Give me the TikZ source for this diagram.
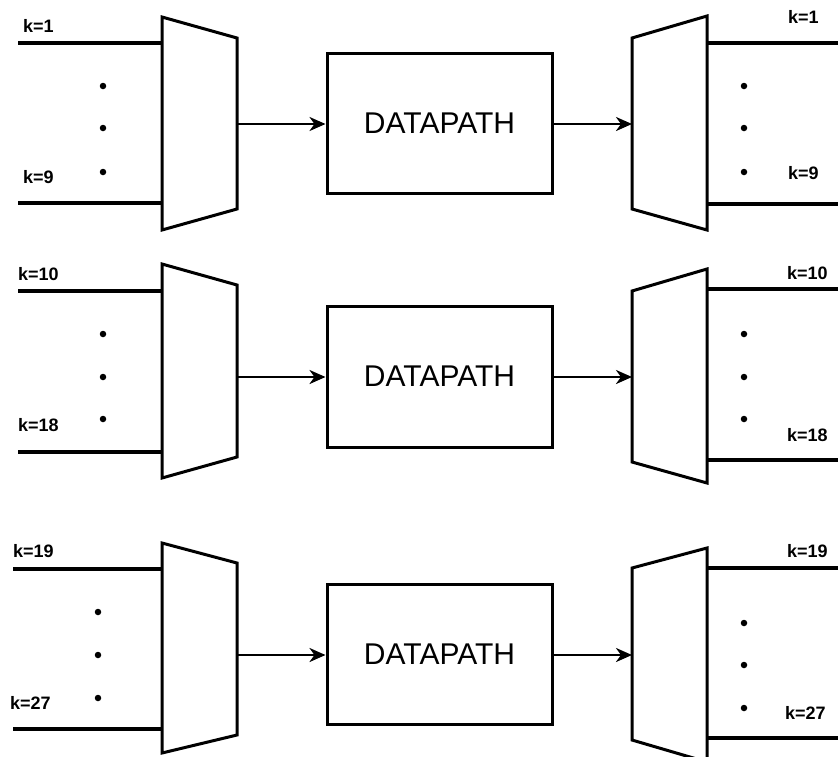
\documentclass[tikz,border=0pt]{standalone}
\usepackage{fontspec}
\setmainfont{Liberation Sans}
\usetikzlibrary{arrows.meta}
\begin{document}
\begin{tikzpicture}[x=1pt,y=-1pt,
  wire/.style={line width=3.6pt},
  muxshape/.style={draw, line width=3pt, line join=miter, fill=white},
  dpbox/.style={draw, line width=3pt, minimum width=225pt, minimum height=140pt, inner sep=0pt, font=\fontsize{30}{32}\selectfont},
  arr/.style={line width=2.6pt, -{Stealth[length=16pt,width=14pt,inset=5pt]}},
  lbl/.style={font=\bfseries\fontsize{18}{20}\selectfont, anchor=west, inner sep=0pt},
  dotmark/.style={circle, fill=black, inner sep=0pt, minimum size=6.5pt},
]
\useasboundingbox (0,0) rectangle (838,756);

% ---------------- Row 1 ----------------
\coordinate (i1a) at (18,43);  \coordinate (i1b) at (18,203);
\coordinate (m1a) at (162,43); \coordinate (m1b) at (162,203);
\draw[wire] (i1a) -- (m1a); \draw[wire] (i1b) -- (m1b);
\draw[muxshape] (162,17) coordinate (m1tl) -- (237,38) coordinate (m1tr) -- (237,209) coordinate (m1br) -- (162,230) coordinate (m1bl) -- cycle;
\coordinate (m1out) at (237,124);
\node[lbl] (l1a) at (23,26) {k=1};
\node[lbl] (l1b) at (23,177) {k=9};
\node[dotmark] (d1a) at (103,86) {};
\node[dotmark] (d1b) at (103,128) {};
\node[dotmark] (d1c) at (103,172) {};
\node[dpbox] (dp1) at (439.5,123.5) {DATAPATH};
\draw[muxshape] (632,38) coordinate (x1tl) -- (707,16) coordinate (x1tr) -- (707,230) coordinate (x1br) -- (632,209) coordinate (x1bl) -- cycle;
\coordinate (x1in) at (632,124);
\coordinate (x1a) at (707,43); \coordinate (x1b) at (707,204);
\coordinate (o1a) at (838,43); \coordinate (o1b) at (838,204);
\draw[wire] (x1a) -- (o1a); \draw[wire] (x1b) -- (o1b);
\draw[arr] (m1out) -- (m1out -| dp1.west);
\draw[arr] (dp1.east |- x1in) -- (x1in);
\node[dotmark] (e1a) at (744,86) {};
\node[dotmark] (e1b) at (744,128) {};
\node[dotmark] (e1c) at (744,172) {};
\node[lbl] (r1a) at (788,17) {k=1};
\node[lbl] (r1b) at (788,173) {k=9};

% ---------------- Row 2 ----------------
\coordinate (i2a) at (18,291);  \coordinate (i2b) at (18,452);
\coordinate (m2a) at (162,291); \coordinate (m2b) at (162,452);
\draw[wire] (i2a) -- (m2a); \draw[wire] (i2b) -- (m2b);
\draw[muxshape] (162,264) coordinate (m2tl) -- (237,285) coordinate (m2tr) -- (237,457) coordinate (m2br) -- (162,478) coordinate (m2bl) -- cycle;
\coordinate (m2out) at (237,377);
\node[lbl] (l2a) at (18,274) {k=10};
\node[lbl] (l2b) at (18,425) {k=18};
\node[dotmark] (d2a) at (103,334) {};
\node[dotmark] (d2b) at (103,377) {};
\node[dotmark] (d2c) at (103,419) {};
\node[dpbox, minimum height=141pt] (dp2) at (439.5,376.5) {DATAPATH};
\draw[muxshape] (632,291) coordinate (x2tl) -- (707,269) coordinate (x2tr) -- (707,483) coordinate (x2br) -- (632,462) coordinate (x2bl) -- cycle;
\coordinate (x2in) at (632,377);
\coordinate (x2a) at (707,289); \coordinate (x2b) at (707,460);
\coordinate (o2a) at (838,289); \coordinate (o2b) at (838,460);
\draw[wire] (x2a) -- (o2a); \draw[wire] (x2b) -- (o2b);
\draw[arr] (m2out) -- (m2out -| dp2.west);
\draw[arr] (dp2.east |- x2in) -- (x2in);
\node[dotmark] (e2a) at (744,334) {};
\node[dotmark] (e2b) at (744,377) {};
\node[dotmark] (e2c) at (744,419) {};
\node[lbl] (r2a) at (787,273) {k=10};
\node[lbl] (r2b) at (787,435) {k=18};

% ---------------- Row 3 ----------------
\coordinate (i3a) at (13,569);  \coordinate (i3b) at (13,729);
\coordinate (m3a) at (162,569); \coordinate (m3b) at (162,729);
\draw[wire] (i3a) -- (m3a); \draw[wire] (i3b) -- (m3b);
\draw[muxshape] (162,543) coordinate (m3tl) -- (237,563) coordinate (m3tr) -- (237,735) coordinate (m3br) -- (162,753) coordinate (m3bl) -- cycle;
\coordinate (m3out) at (237,655);
\node[lbl] (l3a) at (13,551) {k=19};
\node[lbl] (l3b) at (10,703) {k=27};
\node[dotmark] (d3a) at (98,612) {};
\node[dotmark] (d3b) at (98,655) {};
\node[dotmark] (d3c) at (98,698) {};
\node[dpbox] (dp3) at (439.5,654) {DATAPATH};
\draw[muxshape] (632,568) coordinate (x3tl) -- (707,548) coordinate (x3tr) -- (707,762) coordinate (x3br) -- (632,740) coordinate (x3bl) -- cycle;
\coordinate (x3in) at (632,655);
\coordinate (x3a) at (707,568); \coordinate (x3b) at (707,738);
\coordinate (o3a) at (838,568); \coordinate (o3b) at (838,738);
\draw[wire] (x3a) -- (o3a); \draw[wire] (x3b) -- (o3b);
\draw[arr] (m3out) -- (m3out -| dp3.west);
\draw[arr] (dp3.east |- x3in) -- (x3in);
\node[dotmark] (e3a) at (744,623) {};
\node[dotmark] (e3b) at (744,665) {};
\node[dotmark] (e3c) at (744,708) {};
\node[lbl] (r3a) at (787,551) {k=19};
\node[lbl] (r3b) at (785,713) {k=27};
\end{tikzpicture}
\end{document}
